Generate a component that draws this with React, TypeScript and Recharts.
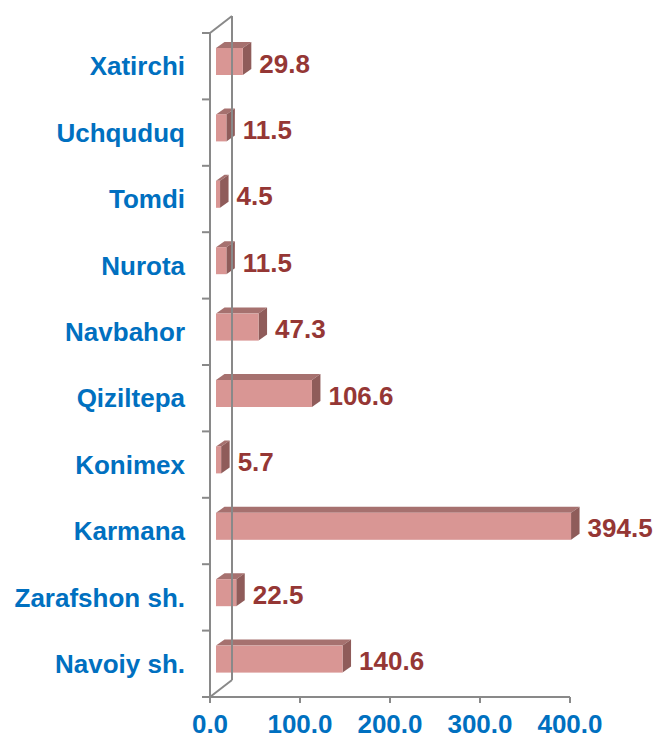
import { Bar, BarChart, LabelList, ReferenceLine, XAxis, YAxis } from 'recharts'

const districts = [
  'Xatirchi',
  'Uchquduq',
  'Tomdi',
  'Nurota',
  'Navbahor',
  'Qiziltepa',
  'Konimex',
  'Karmana',
  'Zarafshon sh.',
  'Navoiy sh.',
]
const values = [29.8, 11.5, 4.5, 11.5, 47.3, 106.6, 5.7, 394.5, 22.5, 140.6]
const xTicks = [0, 100, 200, 300, 400]

const data = districts.map((name, i) => ({ name, value: values[i] }))

const FONT = '"Liberation Sans", Arial, sans-serif'
const BLUE = '#0070C0'
const RED = '#953735'
const WALL = '#898989'

// bar sits a little inside the 3D wall
const SHIFT_X = 6
const SHIFT_Y = -5
const DEPTH_X = 8.5
const DEPTH_Y = -6
// wall depth
const WALL_X = 22
const WALL_Y = -17

function Box3D(props: any) {
  const { x, y, width, height } = props
  if (width == null || height == null) return null
  const fx = x + SHIFT_X
  const fy = y + SHIFT_Y
  const w = Math.max(width, 0)
  const top = `${fx},${fy} ${fx + DEPTH_X},${fy + DEPTH_Y} ${fx + w + DEPTH_X},${fy + DEPTH_Y} ${fx + w},${fy}`
  const side = `${fx + w},${fy} ${fx + w + DEPTH_X},${fy + DEPTH_Y} ${fx + w + DEPTH_X},${fy + height + DEPTH_Y} ${fx + w},${fy + height}`
  return (
    <g>
      <polygon points={top} fill="#A6716F" />
      <polygon points={side} fill="#8F5C5A" />
      <rect x={fx} y={fy} width={w} height={height} fill="#D99694" />
    </g>
  )
}

function ValueLabel(props: any) {
  const { x, y, width, height, value } = props
  return (
    <text
      x={x + width + SHIFT_X + DEPTH_X + 8}
      y={y + SHIFT_Y + height / 2 + 11}
      fill={RED}
      fontSize={26}
      fontWeight={700}
      fontFamily={FONT}
    >
      {Number(value).toFixed(1)}
    </text>
  )
}

function Wall(props: any) {
  const { x1, y1, y2 } = props
  const top = Math.min(y1, y2)
  const bottom = Math.max(y1, y2)
  const step = (bottom - top) / districts.length
  const ticks = Array.from({ length: districts.length + 1 }, (_, i) => top + i * step)
  return (
    <g stroke={WALL} strokeWidth={2} fill="none">
      <line x1={x1} y1={top} x2={x1 + WALL_X} y2={top + WALL_Y} />
      <line x1={x1 + WALL_X} y1={top + WALL_Y} x2={x1 + WALL_X} y2={bottom + WALL_Y} />
      <line x1={x1} y1={bottom} x2={x1 + WALL_X} y2={bottom + WALL_Y} />
      {ticks.map((t) => (
        <line key={t} x1={x1 - 8} y1={t} x2={x1} y2={t} />
      ))}
    </g>
  )
}

export default function App() {
  return (
    <div style={{ position: 'absolute', left: 0, top: 0 }}>
      <BarChart
        width={657}
        height={740}
        layout="vertical"
        data={data}
        margin={{ top: 33, right: 87, bottom: 0, left: 0 }}
        style={{ fontFamily: FONT }}
      >
        <XAxis
          type="number"
          domain={[0, 400]}
          ticks={xTicks}
          height={43}
          tickFormatter={(v) => Number(v).toFixed(1)}
          tick={{ fill: BLUE, fontSize: 26, fontWeight: 700 }}
          tickSize={6}
          tickMargin={12}
          axisLine={{ stroke: WALL, strokeWidth: 2 }}
          tickLine={{ stroke: WALL, strokeWidth: 2 }}
        />
        <YAxis
          type="category"
          dataKey="name"
          width={210}
          interval={0}
          tick={{ fill: BLUE, fontSize: 26, fontWeight: 700 }}
          tickLine={false}
          tickSize={6}
          tickMargin={19}
          axisLine={{ stroke: WALL, strokeWidth: 2 }}
        />
        <ReferenceLine x={0} stroke={WALL} shape={Wall} />
        <Bar dataKey="value" barSize={27} shape={Box3D} isAnimationActive={false}>
          <LabelList dataKey="value" content={ValueLabel} />
        </Bar>
      </BarChart>
    </div>
  )
}
